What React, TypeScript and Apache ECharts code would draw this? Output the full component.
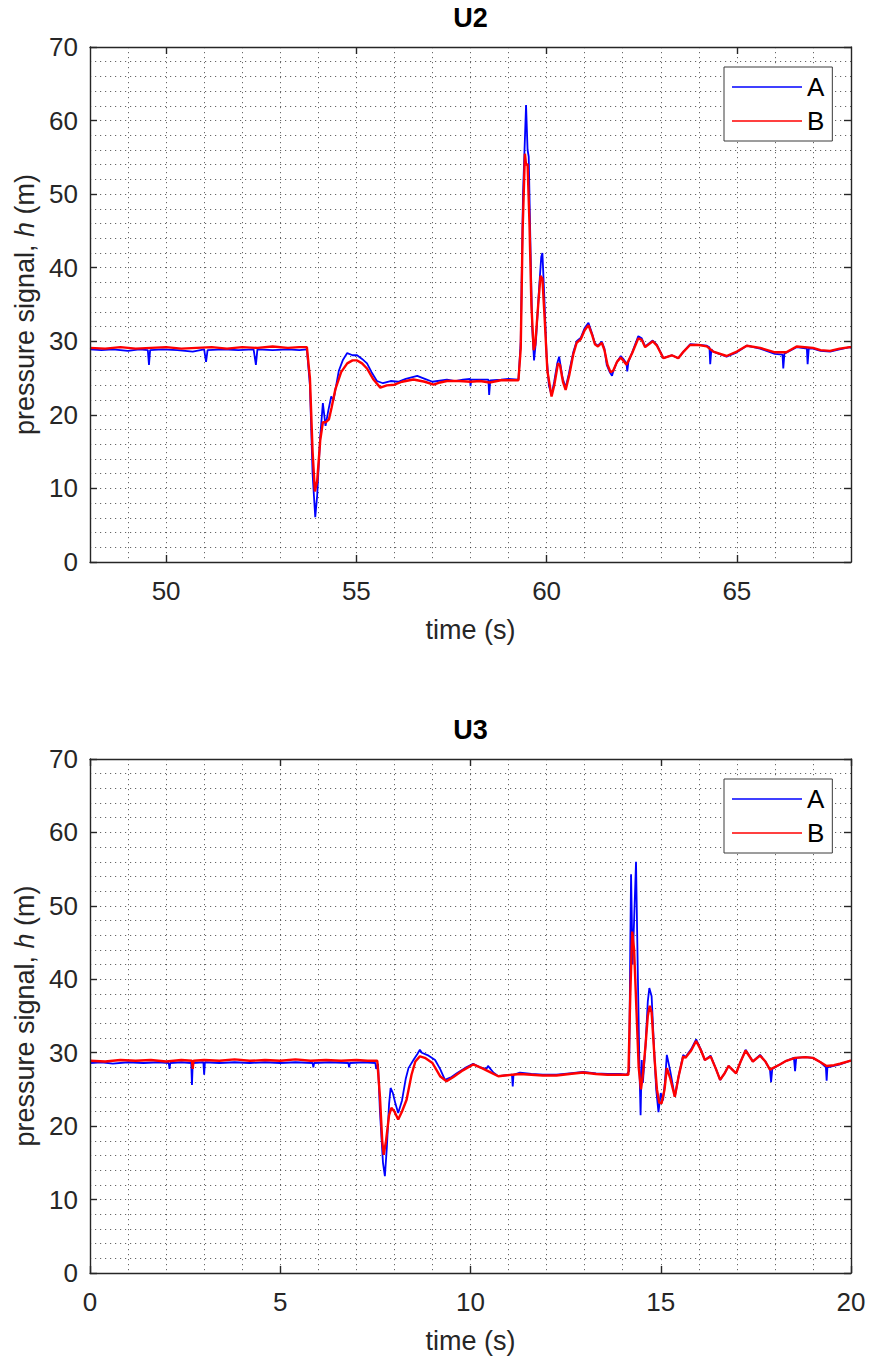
import React, { useEffect, useRef } from "react";
import * as echarts from "echarts";

// ---------------- data ----------------
const U2_XTICKS = [50, 55, 60, 65];
const U3_XTICKS = [0, 5, 10, 15, 20];
const Y_TICKS = [0, 10, 20, 30, 40, 50, 60, 70];

const U2_A: [number, number][] = [
  [48.0, 28.9], [48.3, 28.8], [48.6, 28.9], [49.0, 28.7], [49.3, 28.9], [49.52, 28.8], [49.55, 26.8], [49.58, 28.8],
  [49.9, 28.9], [50.3, 28.8], [50.7, 28.6], [51.0, 28.9], [51.05, 27.2], [51.09, 28.8], [51.5, 28.9], [51.9, 28.8],
  [52.3, 28.9], [52.36, 26.8], [52.4, 28.9], [52.8, 28.8], [53.2, 28.9], [53.5, 28.8], [53.7, 28.9], [53.78, 24],
  [53.85, 12], [53.92, 6.1], [53.97, 9], [54.05, 17], [54.12, 21.6], [54.19, 18.5], [54.26, 20.5], [54.34, 22.5],
  [54.4, 22.0], [54.54, 26.0], [54.65, 27.5], [54.76, 28.4], [54.9, 28.1], [55.02, 28.1], [55.15, 27.6], [55.28, 27.0],
  [55.4, 25.8], [55.54, 24.6], [55.7, 24.3], [55.9, 24.6], [56.1, 24.5], [56.3, 24.9], [56.6, 25.3], [56.8, 24.9],
  [57.0, 24.5], [57.38, 24.8], [57.6, 24.6], [57.8, 24.8], [57.99, 24.9], [58.0, 23.9], [58.02, 24.8], [58.25, 24.8],
  [58.47, 24.8], [58.49, 22.7], [58.52, 24.7], [58.8, 24.8], [59.0, 24.9], [59.26, 24.8], [59.32, 30], [59.38, 50],
  [59.46, 62.1], [59.5, 56], [59.53, 55.1], [59.58, 42], [59.62, 32], [59.67, 27.4], [59.72, 30], [59.8, 37],
  [59.86, 41.5], [59.89, 42.0], [59.94, 36], [60.0, 28], [60.06, 24], [60.13, 22.7], [60.2, 24.5], [60.28, 27],
  [60.33, 27.9], [60.42, 25], [60.5, 23.7], [60.58, 25.5], [60.7, 28.5], [60.79, 30.0], [60.9, 30.5], [61.0, 31.8],
  [61.1, 32.5], [61.2, 31], [61.27, 29.7], [61.35, 29.4], [61.45, 29.95], [61.52, 29], [61.58, 26.8], [61.66, 25.8],
  [61.72, 25.3], [61.75, 25.9], [61.85, 27.2], [61.95, 28.0], [62.03, 27.5], [62.1, 27.0], [62.12, 25.9], [62.15, 27.2],
  [62.25, 28.5], [62.41, 30.7], [62.5, 30.4], [62.59, 29.3], [62.79, 30.1], [62.9, 29.5], [63.07, 27.7], [63.29, 28.1],
  [63.46, 27.7], [63.6, 28.6], [63.77, 29.6], [64.0, 29.5], [64.21, 29.4], [64.28, 29.2], [64.3, 26.9], [64.33, 28.9],
  [64.38, 28.6], [64.73, 27.9], [65.0, 28.5], [65.26, 29.4], [65.61, 29.0], [66.0, 28.3], [66.2, 28.2], [66.22, 26.3],
  [66.25, 28.3], [66.57, 29.2], [66.84, 29.0], [66.86, 26.9], [66.89, 29.0], [67.0, 29.0], [67.2, 28.7], [67.45, 28.6],
  [67.7, 28.9], [67.97, 29.2], [68.0, 29.1],
];

const U2_B: [number, number][] = [
  [48.0, 29.1], [48.4, 29.0], [48.8, 29.2], [49.2, 29.0], [49.6, 29.1], [50.0, 29.2], [50.4, 29.0], [50.8, 29.1],
  [51.2, 29.2], [51.6, 29.0], [52.0, 29.2], [52.4, 29.1], [52.8, 29.3], [53.2, 29.1], [53.5, 29.2], [53.7, 29.2],
  [53.78, 25], [53.85, 15], [53.91, 9.6], [53.97, 11], [54.05, 16.5], [54.12, 19.0], [54.2, 19.0], [54.28, 19.4],
  [54.35, 21.0], [54.45, 23.5], [54.6, 25.8], [54.76, 27.0], [54.9, 27.4], [55.02, 27.4], [55.15, 27.0], [55.28, 26.3],
  [55.45, 24.8], [55.63, 23.7], [55.8, 24.0], [56.0, 24.1], [56.2, 24.5], [56.5, 24.8], [56.8, 24.5], [57.03, 24.1],
  [57.2, 24.4], [57.38, 24.6], [57.7, 24.6], [58.0, 24.5], [58.25, 24.6], [58.5, 24.4], [58.8, 24.7], [59.0, 24.7],
  [59.26, 24.7], [59.32, 29], [59.37, 45], [59.43, 55.5], [59.46, 54.0], [59.5, 54.1], [59.55, 46], [59.6, 35],
  [59.66, 28.8], [59.7, 29.5], [59.78, 35], [59.84, 38.9], [59.89, 38.5], [59.95, 33], [60.02, 26], [60.13, 22.5],
  [60.2, 24], [60.3, 27.0], [60.35, 26.8], [60.43, 24.5], [60.5, 23.4], [60.6, 25.5], [60.7, 28.2], [60.79, 29.8],
  [60.9, 30.3], [61.0, 31.5], [61.1, 32.2], [61.2, 30.8], [61.27, 29.6], [61.35, 29.3], [61.45, 29.8], [61.52, 28.8],
  [61.6, 26.8], [61.68, 25.8], [61.75, 26.0], [61.85, 27.2], [61.95, 27.8], [62.1, 26.8], [62.25, 28.4], [62.41, 30.4],
  [62.5, 30.2], [62.59, 29.2], [62.79, 30.0], [62.9, 29.4], [63.07, 27.7], [63.29, 28.1], [63.46, 27.7], [63.6, 28.6],
  [63.77, 29.5], [64.0, 29.5], [64.21, 29.3], [64.38, 28.6], [64.73, 28.0], [65.0, 28.6], [65.26, 29.4], [65.61, 29.1],
  [66.0, 28.5], [66.3, 28.5], [66.57, 29.3], [67.0, 29.1], [67.2, 28.8], [67.45, 28.7], [67.7, 29.0], [67.97, 29.2],
  [68.0, 29.2],
];

const U3_A: [number, number][] = [
  [0, 28.6], [0.3, 28.7], [0.6, 28.5], [1.0, 28.7], [1.4, 28.6], [1.8, 28.7], [2.07, 28.6], [2.09, 27.8], [2.11, 28.6],
  [2.4, 28.7], [2.66, 28.6], [2.68, 25.6], [2.7, 28.6], [2.98, 28.7], [3.0, 27.0], [3.02, 28.7], [3.4, 28.6], [3.8, 28.7],
  [4.2, 28.6], [4.6, 28.7], [5.0, 28.6], [5.4, 28.7], [5.85, 28.6], [5.87, 28.0], [5.89, 28.6], [6.3, 28.7], [6.79, 28.6],
  [6.81, 28.0], [6.83, 28.6], [7.2, 28.7], [7.5, 28.6], [7.52, 27.8], [7.57, 28.5], [7.62, 22], [7.7, 15], [7.75, 13.2],
  [7.8, 17], [7.86, 23], [7.9, 25.2], [7.96, 24.5], [8.03, 23.0], [8.1, 21.8], [8.2, 23.5], [8.3, 26.5], [8.37, 27.9],
  [8.5, 29.0], [8.6, 29.8], [8.67, 30.4], [8.72, 30.0], [8.9, 29.6], [9.07, 29.0], [9.2, 27.8], [9.33, 26.3], [9.5, 26.7],
  [9.64, 27.2], [9.85, 27.9], [10.07, 28.5], [10.25, 28.0], [10.42, 27.8], [10.46, 28.2], [10.6, 27.3], [10.73, 26.8],
  [10.9, 26.9], [11.09, 27.0], [11.11, 25.4], [11.13, 27.0], [11.3, 27.3], [11.6, 27.1], [11.9, 27.0], [12.26, 27.0],
  [12.6, 27.2], [12.96, 27.4], [13.3, 27.2], [13.6, 27.1], [13.93, 27.1], [14.1, 27.0], [14.17, 27.5], [14.2, 45],
  [14.22, 54.3], [14.26, 42], [14.3, 48], [14.35, 56.0], [14.4, 40], [14.44, 28], [14.47, 21.5], [14.5, 29.0],
  [14.53, 25.9], [14.6, 31], [14.66, 37], [14.7, 38.8], [14.76, 37.7], [14.82, 31], [14.88, 25], [14.94, 21.9],
  [15.0, 24.5], [15.06, 23.5], [15.11, 26], [15.16, 29.7], [15.25, 27.5], [15.37, 24.0], [15.47, 26.8], [15.59, 29.7],
  [15.65, 29.4], [15.8, 30.5], [15.93, 31.8], [16.05, 30.5], [16.16, 29.0], [16.31, 29.6], [16.45, 27.8], [16.56, 26.3],
  [16.68, 27.2], [16.78, 28.2], [16.98, 27.2], [17.1, 28.8], [17.23, 30.4], [17.42, 28.8], [17.61, 29.7], [17.75, 28.8],
  [17.87, 27.7], [17.9, 26.0], [17.93, 27.8], [18.13, 28.4], [18.3, 28.9], [18.5, 29.3], [18.53, 27.5], [18.56, 29.3],
  [18.8, 29.4], [19.0, 29.3], [19.2, 28.7], [19.34, 28.0], [19.36, 26.2], [19.38, 28.0], [19.55, 28.2], [19.71, 28.4],
  [19.97, 28.9], [20, 28.9],
];

const U3_B: [number, number][] = [
  [0, 28.9], [0.4, 28.8], [0.8, 29.0], [1.2, 28.9], [1.6, 29.0], [2.0, 28.8], [2.4, 29.0], [2.68, 28.9], [2.7, 27.8],
  [2.72, 28.9], [3.0, 29.0], [3.4, 28.9], [3.8, 29.1], [4.2, 28.9], [4.6, 29.0], [5.0, 28.9], [5.4, 29.1], [5.8, 28.9],
  [6.2, 29.0], [6.6, 28.9], [7.0, 29.0], [7.3, 28.9], [7.55, 28.9], [7.62, 24], [7.68, 18], [7.72, 16.1], [7.78, 18],
  [7.86, 21.5], [7.92, 22.5], [8.0, 22.0], [8.1, 20.9], [8.2, 22.0], [8.32, 23.6], [8.45, 27.0], [8.55, 28.8],
  [8.67, 29.5], [8.8, 29.3], [9.0, 28.6], [9.2, 26.8], [9.37, 26.1], [9.55, 26.7], [9.8, 27.6], [10.07, 28.4],
  [10.3, 27.9], [10.5, 27.4], [10.73, 26.8], [10.9, 26.9], [11.1, 27.0], [11.3, 27.1], [11.6, 27.0], [11.9, 26.9],
  [12.26, 26.9], [12.6, 27.1], [12.96, 27.3], [13.3, 27.1], [13.6, 27.0], [13.93, 27.0], [14.15, 27.0], [14.2, 38],
  [14.25, 46.5], [14.3, 44], [14.36, 36], [14.42, 28], [14.48, 25], [14.53, 27], [14.6, 31], [14.66, 35], [14.71, 36.4],
  [14.76, 35.5], [14.84, 29], [14.9, 25], [14.96, 23.2], [15.02, 23.1], [15.1, 25], [15.16, 27.9], [15.25, 26.5],
  [15.37, 24.0], [15.47, 26.8], [15.59, 29.5], [15.65, 29.3], [15.8, 30.3], [15.93, 31.6], [16.05, 30.4], [16.16, 29.0],
  [16.31, 29.5], [16.45, 27.8], [16.56, 26.3], [16.68, 27.2], [16.78, 28.2], [16.98, 27.2], [17.1, 28.8], [17.23, 30.3],
  [17.42, 28.8], [17.61, 29.6], [17.75, 28.8], [17.87, 27.7], [18.13, 28.4], [18.3, 28.9], [18.53, 29.3], [18.8, 29.4],
  [19.0, 29.3], [19.2, 28.7], [19.36, 28.2], [19.55, 28.3], [19.71, 28.5], [19.97, 28.9], [20, 28.9],
];

// ---------------- styles ----------------
const FONT = "'Liberation Sans', Arial, Helvetica, sans-serif";
const AXIS_COLOR = "#262626";
const GRID_DOT = { color: "rgba(38,38,38,0.7)", width: 1, type: [1.2, 3.8] as number[] };

interface PanelCfg {
  top: number;
  height: number;
  xmin: number;
  xmax: number;
  xticks: number[];
  title: string;
}

const LEFT = 90;
const WIDTH = 761;

const PANELS: PanelCfg[] = [
  { top: 47, height: 515, xmin: 48, xmax: 68, xticks: U2_XTICKS, title: "U2" },
  { top: 759, height: 514, xmin: 0, xmax: 20, xticks: U3_XTICKS, title: "U3" },
];

function buildOption() {
  const grid: any[] = [];
  const xAxis: any[] = [];
  const yAxis: any[] = [];
  const legend: any[] = [];
  const graphic: any[] = [];

  PANELS.forEach((p, i) => {
    grid.push({ left: LEFT, top: p.top, width: WIDTH, height: p.height, containLabel: false });
    const lineStyle = { color: AXIS_COLOR, width: 1.4 };
    xAxis.push({
      type: "value", gridIndex: i, position: "bottom", min: p.xmin, max: p.xmax, splitNumber: 4,
      axisLine: { show: true, onZero: false, lineStyle },
      axisTick: { show: true, inside: true, length: 7, lineStyle: { color: AXIS_COLOR, width: 1.4 }, customValues: p.xticks },
      axisLabel: { show: true, customValues: p.xticks, color: AXIS_COLOR, fontSize: 26, fontFamily: FONT, margin: 16 },
      splitLine: { show: false },
      name: "time (s)", nameLocation: "middle", nameGap: 54,
      nameTextStyle: { color: AXIS_COLOR, fontSize: 27, fontFamily: FONT },
      z: 5,
    });
    xAxis.push({
      type: "value", gridIndex: i, position: "top", min: p.xmin, max: p.xmax, splitNumber: 4,
      axisLine: { show: true, onZero: false, lineStyle },
      axisTick: { show: true, inside: true, length: 7, lineStyle: { color: AXIS_COLOR, width: 1.4 }, customValues: p.xticks },
      axisLabel: { show: false },
      splitLine: { show: false },
      z: 5,
    });
    xAxis.push({
      type: "value", gridIndex: i, min: p.xmin, max: p.xmax, interval: 1,
      axisLine: { show: false }, axisTick: { show: false }, axisLabel: { show: false },
      splitLine: { show: true, lineStyle: GRID_DOT },
    });

    yAxis.push({
      type: "value", gridIndex: i, position: "left", min: 0, max: 70, interval: 10,
      axisLine: { show: true, onZero: false, lineStyle },
      axisTick: { show: true, inside: true, length: 7, lineStyle: { color: AXIS_COLOR, width: 1.4 } },
      axisLabel: { show: true, color: AXIS_COLOR, fontSize: 26, fontFamily: FONT, margin: 12, customValues: Y_TICKS },
      splitLine: { show: false },
      name: "{a|pressure signal, }{i|h}{a| (m)}", nameLocation: "middle", nameGap: 46,
      nameTextStyle: {
        color: AXIS_COLOR, fontSize: 27, fontFamily: FONT,
        rich: {
          a: { color: AXIS_COLOR, fontSize: 27, fontFamily: FONT },
          i: { color: AXIS_COLOR, fontSize: 27, fontFamily: FONT, fontStyle: "italic" },
        },
      },
      z: 5,
    });
    yAxis.push({
      type: "value", gridIndex: i, position: "right", min: 0, max: 70, interval: 10,
      axisLine: { show: true, onZero: false, lineStyle },
      axisTick: { show: true, inside: true, length: 7, lineStyle: { color: AXIS_COLOR, width: 1.4 } },
      axisLabel: { show: false },
      splitLine: { show: false },
      z: 5,
    });
    yAxis.push({
      type: "value", gridIndex: i, min: 0, max: 70, interval: 2,
      axisLine: { show: false }, axisTick: { show: false }, axisLabel: { show: false },
      splitLine: { show: true, lineStyle: GRID_DOT },
    });

    legend.push({
      data: ["A", "B"],
      orient: "vertical",
      left: 724, top: p.top + 20,
      padding: [6, 8, 6, 8],
      itemGap: 6,
      icon: "rect",
      itemWidth: 70, itemHeight: 1.4,
      backgroundColor: "#ffffff",
      borderColor: "#3a3a3a", borderWidth: 1, borderRadius: 0,
      textStyle: { color: "#000", fontSize: 26, fontFamily: FONT, lineHeight: 28, padding: [0, 0, 0, 0] },
      selectedMode: false,
    });

    graphic.push({
      type: "text", x: LEFT + WIDTH / 2, y: p.top - 29,
      style: { text: p.title, fontSize: 27, fontWeight: "bold", fontFamily: FONT, fill: "#000", align: "center", verticalAlign: "middle" },
    });
  });

  const mk = (name: string, data: [number, number][], color: string, width: number, gi: number) => ({
    type: "line", name, data, xAxisIndex: gi * 3, yAxisIndex: gi * 3,
    symbol: "none", showSymbol: false, smooth: false,
    lineStyle: { color, width }, itemStyle: { color },
    z: 3,
  });

  return {
    animation: false,
    backgroundColor: "#ffffff",
    textStyle: { fontFamily: FONT },
    grid, xAxis, yAxis, legend, graphic,
    series: [
      mk("A", U2_A, "#0000ff", 1.8, 0),
      mk("B", U2_B, "#ff0000", 2.4, 0),
      mk("A", U3_A, "#0000ff", 1.8, 1),
      mk("B", U3_B, "#ff0000", 2.4, 1),
    ],
  };
}

export default function App() {
  const ref = useRef<HTMLDivElement>(null);
  useEffect(() => {
    if (!ref.current) return;
    const chart = echarts.init(ref.current, undefined, { renderer: "svg" });
    chart.setOption(buildOption() as any);
    return () => chart.dispose();
  }, []);
  return (
    <div
      ref={ref}
      style={{ position: "absolute", left: 0, top: 0, width: 869, height: 1362, background: "#fff" }}
    />
  );
}
